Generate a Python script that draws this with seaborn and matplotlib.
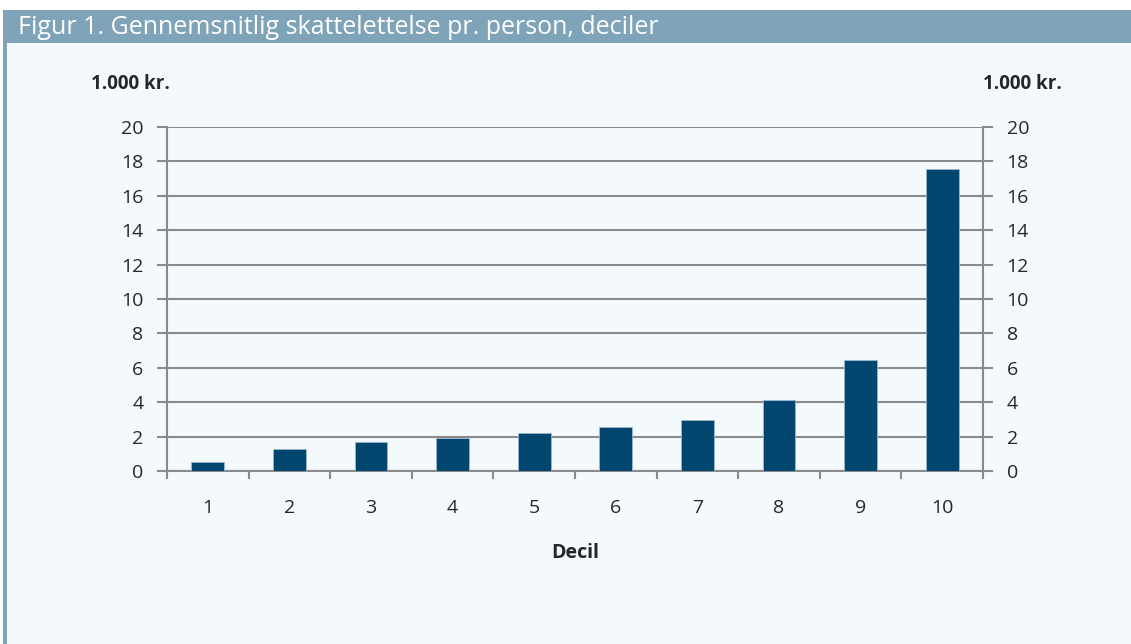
import matplotlib
matplotlib.use("Agg")
import matplotlib.pyplot as plt
import seaborn as sns
import pandas as pd
from matplotlib.patches import Rectangle

# ---- Data ---------------------------------------------------------------
deciler = ["1", "2", "3", "4", "5", "6", "7", "8", "9", "10"]
lettelse = [0.53, 1.28, 1.68, 1.93, 2.22, 2.53, 2.98, 4.1, 6.45, 17.56]
yticks = [0, 2, 4, 6, 8, 10, 12, 14, 16, 18, 20]

titel = "Figur 1. Gennemsnitlig skattelettelse pr. person, deciler"
enhed = "1.000 kr."
x_label = "Decil"

# ---- Farver -------------------------------------------------------------
bar_farve = "#00466E"
panel_farve = "#F4F9FD"
bjaelke_farve = "#7FA3B8"
gitter_farve = "#8A8A8A"

sns.set_style("white")
plt.rcParams["font.family"] = ["Open Sans", "DejaVu Sans"]

W, H = 1131, 644
fig = plt.figure(figsize=(W / 100, H / 100), dpi=100)
fig.patch.set_facecolor("white")

# baggrund, titelbjælke og venstre kant
fig.patches.append(Rectangle((3 / W, 0), 1, 1 - 10 / H, transform=fig.transFigure,
                             facecolor=panel_farve, edgecolor="none", zorder=-3))
fig.patches.append(Rectangle((3 / W, 1 - 43 / H), 1, 33 / H, transform=fig.transFigure,
                             facecolor=bjaelke_farve, edgecolor="none", zorder=-2))
fig.patches.append(Rectangle((3 / W, 0), 4 / W, 1 - 43 / H, transform=fig.transFigure,
                             facecolor=bjaelke_farve, edgecolor="none", zorder=-2))
fig.text(18 / W, 1 - 28 / H, titel, color="white", fontsize=18, va="center", ha="left")

ax = fig.add_axes([167 / W, 1 - 471 / H, (983 - 167) / W, (471 - 127) / H])
ax.set_facecolor("none")
ax.set_zorder(2)

df = pd.DataFrame({"decil": deciler, "vaerdi": lettelse})
sns.barplot(data=df, x="decil", y="vaerdi", color=bar_farve, width=0.4, ax=ax,
            edgecolor="#9DB8CC", linewidth=0.6, saturation=1, zorder=3)

ax.set_ylim(0, 20)
ax.set_xlim(-0.5, len(deciler) - 0.5)
ax.set_yticks(yticks)
ax.yaxis.grid(True, color=gitter_farve, linewidth=1.5, zorder=0)
ax.set_axisbelow(True)

for side in ["left", "right", "bottom"]:
    ax.spines[side].set_visible(True)
    ax.spines[side].set_color(gitter_farve)
    ax.spines[side].set_linewidth(1.5)
ax.spines["top"].set_visible(False)

ax.tick_params(axis="y", which="major", left=True, right=True, labelleft=True, labelright=True,
               direction="out", length=7, width=1.5, color=gitter_farve, pad=10, labelsize=14)
ax.set_xticks([i - 0.5 for i in range(len(deciler) + 1)], minor=True)
ax.tick_params(axis="x", which="minor", bottom=True, direction="out", length=6, width=1.5,
               color=gitter_farve)
ax.tick_params(axis="x", which="major", bottom=False, length=0, pad=20, labelsize=14)

ax.set_xlabel("")
ax.set_ylabel("")
fig.text(575 / W, 1 - 553 / H, x_label, fontsize=14, fontweight="bold", ha="center", va="center")
fig.text(130 / W, 1 - 84 / H, enhed, fontsize=13.5, fontweight="bold", ha="center", va="center")
fig.text(1022 / W, 1 - 84 / H, enhed, fontsize=13.5, fontweight="bold", ha="center", va="center")

fig.savefig("out.png", dpi=100, facecolor=fig.get_facecolor())
